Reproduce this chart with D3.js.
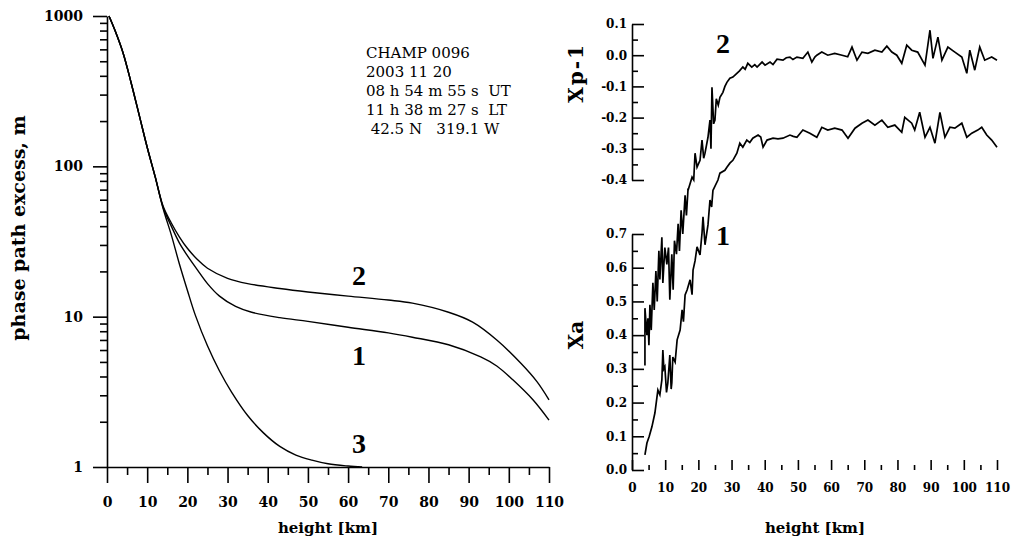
<!DOCTYPE html>
<html>
<head>
<meta charset="utf-8">
<script src="https://cdn.jsdelivr.net/npm/d3@7"></script>
<style>
	body { margin: 0; background: #fff; }
	text { font-family: "DejaVu Serif", serif; fill: #000; }
	.tick line, .domain { stroke: #000; stroke-width: 1.6; }
</style>
</head>
<body>
<div id="canvas"></div>
<script>
// left panel: phase path excess (log) vs height
const curve1H = [0.5, 2, 4, 6, 8, 10, 12, 14, 16, 18, 20, 22.5, 25, 28, 32, 36, 43, 50, 60, 70, 76, 85, 93, 97, 101, 106, 110];
const curve1V = [1000, 800, 568, 360, 220, 134, 85, 53, 40, 31, 25.5, 20.5, 16.6, 13.7, 11.7, 10.7, 9.85, 9.3, 8.5, 7.8, 7.3, 6.5, 5.4, 4.7, 3.8, 2.8, 2.05];
const curve2H = [0.5, 2, 4, 6, 8, 10, 12, 14, 16, 18, 20, 22.5, 25, 30, 35, 43, 50, 60, 70, 76, 85, 91, 97, 103, 107, 110];
const curve2V = [1000, 800, 568, 360, 220, 134, 85, 54, 42, 34, 28.5, 24, 21, 18, 16.6, 15.4, 14.6, 13.7, 12.9, 12.3, 10.7, 9.2, 7.0, 4.9, 3.7, 2.8];
const curve3H = [0.5, 2, 4, 6, 8, 10, 12, 14, 16, 18, 20, 22, 25, 28, 31, 35, 39, 43, 47, 51, 55, 60, 63.5];
const curve3V = [1000, 800, 568, 360, 220, 134, 85, 52, 35, 22.5, 15, 10.2, 6.4, 4.35, 3.15, 2.2, 1.68, 1.37, 1.2, 1.11, 1.05, 1.015, 1.0];

const leftXTicks = d3.range(0, 111, 10);
const leftYTicks = [1, 10, 100, 1000];
const infoLines = ["CHAMP 0096", "2003 11 20", "08 h 54 m 55 s  UT", "11 h 38 m 27 s  LT", " 42.5 N   319.1 W"];

// right panel: Xa (bottom) and Xp-1 (top) vs height, [height, value]
const xa1 = [[3.9,0.045],[4.5,0.08],[5.2,0.10],[6.0,0.128],[6.9,0.169],[7.8,0.237],[8.4,0.223],[9.0,0.267],[9.3,0.356],[9.6,0.30],[9.9,0.306],[10.4,0.23],[10.8,0.258],[11.4,0.341],[11.8,0.24],[12.0,0.258],[12.3,0.335],[13.0,0.32],[13.6,0.386],[14.5,0.415],[15.1,0.475],[15.5,0.44],[16.0,0.519],[16.6,0.534],[17.5,0.564],[18.1,0.52],[18.4,0.593],[19.0,0.62],[19.6,0.662],[20.5,0.638],[21.1,0.703],[21.4,0.751],[22.0,0.668],[22.9,0.727],[23.5,0.801],[24.0,0.78],[24.4,0.83]];
const xa2 = [[3.9,0.31],[3.9,0.48],[4.5,0.40],[4.8,0.45],[5.1,0.37],[5.4,0.49],[5.8,0.415],[6.3,0.555],[6.7,0.475],[7.2,0.59],[7.6,0.50],[8.1,0.65],[8.4,0.565],[9.0,0.69],[9.3,0.555],[9.9,0.66],[10.5,0.61],[11.0,0.66],[11.4,0.505],[12.0,0.64],[12.4,0.535],[12.8,0.68],[13.4,0.64],[13.9,0.73],[14.3,0.65],[14.8,0.77],[15.3,0.70],[16.0,0.815],[16.4,0.755],[16.9,0.835]];
const xp1 = [[24.4,-0.433],[25.9,-0.40],[26.5,-0.378],[28.0,-0.369],[28.6,-0.359],[29.5,-0.346],[30.4,-0.337],[31.6,-0.314],[32.5,-0.282],[33.4,-0.295],[34.6,-0.272],[35.5,-0.28],[36.4,-0.266],[38.0,-0.256],[38.8,-0.262],[39.5,-0.295],[40.7,-0.272],[42.5,-0.266],[44.0,-0.268],[45.5,-0.266],[47.6,-0.256],[48.6,-0.26],[49.7,-0.263],[51.5,-0.24],[53.6,-0.25],[55.7,-0.263],[57.2,-0.231],[59.0,-0.24],[61.1,-0.234],[63.3,-0.24],[65.1,-0.266],[67.2,-0.234],[69.3,-0.218],[71.1,-0.208],[73.2,-0.224],[75.3,-0.208],[77.1,-0.231],[79.2,-0.224],[81.3,-0.247],[82.2,-0.199],[84.3,-0.218],[85.2,-0.24],[86.7,-0.183],[88.3,-0.263],[89.8,-0.231],[91.3,-0.282],[92.8,-0.183],[94.3,-0.263],[95.8,-0.231],[97.3,-0.234],[99.4,-0.218],[100.9,-0.263],[102.4,-0.25],[104.2,-0.24],[105.4,-0.231],[106.9,-0.256],[108.4,-0.272],[110,-0.295]];
const xp2 = [[16.9,-0.433],[18.1,-0.391],[18.6,-0.40],[19.0,-0.314],[19.6,-0.359],[20.5,-0.337],[21.1,-0.272],[21.6,-0.33],[22.0,-0.314],[22.9,-0.263],[23.5,-0.208],[23.8,-0.30],[24.1,-0.103],[24.6,-0.22],[25.0,-0.208],[25.4,-0.14],[26.0,-0.16],[26.5,-0.135],[27.4,-0.119],[28.0,-0.10],[28.6,-0.087],[29.5,-0.074],[30.4,-0.07],[31.6,-0.058],[32.4,-0.05],[33.4,-0.038],[34.1,-0.045],[34.9,-0.026],[36.1,-0.038],[37.0,-0.03],[37.7,-0.038],[39.2,-0.022],[40.1,-0.032],[41.6,-0.022],[42.5,-0.03],[43.7,-0.013],[45.5,-0.016],[46.5,-0.008],[47.6,-0.006],[48.5,-0.014],[49.7,-0.006],[51.5,-0.01],[53.0,0.01],[54.2,-0.022],[55.1,-0.006],[55.7,0.0],[57.2,0.01],[59.0,0.0],[61.1,0.006],[63.3,0.0],[65.0,-0.005],[66.3,0.026],[67.8,-0.016],[69.3,0.01],[71.1,0.006],[73.2,0.016],[75.3,0.01],[76.8,0.029],[78.3,0.01],[79.8,0.0],[81.3,-0.026],[82.8,0.032],[84.3,0.016],[86.1,0.01],[88.3,-0.032],[89.8,0.08],[90.7,-0.01],[92.2,0.058],[93.4,-0.016],[95.2,0.026],[97.3,0.01],[99.4,-0.006],[100.9,-0.058],[101.8,0.016],[103.3,-0.048],[104.8,0.026],[106.3,-0.016],[108.4,-0.006],[110,-0.016]];

const rightXTicks = d3.range(0, 111, 10);
const xpTicks = [-0.4, -0.3, -0.2, -0.1, 0.0, 0.1];
const xaTicks = [0.0, 0.1, 0.2, 0.3, 0.4, 0.5, 0.6, 0.7];

const svg = d3.select("#canvas").append("svg")
	.attr("width", 1015).attr("height", 541)
	.style("background", "#fff");

// ---------- left panel ----------
const x = d3.scaleLinear([0, 110], [107, 549]);
const y = d3.scaleLog([1, 1000], [467, 16]);

const gx = svg.append("g").attr("transform", "translate(0,467)");
gx.call(d3.axisBottom(x).tickValues(leftXTicks).tickSize(16).tickSizeOuter(0).tickPadding(14).tickFormat(d3.format("d")));
svg.append("g").attr("transform", "translate(0,467)")
	.call(d3.axisBottom(x).tickValues(d3.range(5, 110, 10)).tickSize(8).tickFormat(""))
	.select(".domain").remove();

const gy = svg.append("g").attr("transform", "translate(107,0)");
gy.call(d3.axisLeft(y).tickValues(leftYTicks).tickSize(14).tickSizeOuter(0).tickPadding(10).tickFormat(d3.format("d")));
const minorY = [];
leftYTicks.slice(0, 3).forEach(d => { for (let k = 2; k < 10; k++) minorY.push(d * k); });
svg.append("g").attr("transform", "translate(107,0)")
	.call(d3.axisLeft(y).tickValues(minorY).tickSize(7).tickFormat(""))
	.select(".domain").remove();

[gx, gy].forEach(g => g.selectAll("text").style("font-size", "14px").style("font-weight", "bold"));

svg.append("text")
	.attr("transform", "translate(25,228) rotate(-90)")
	.attr("text-anchor", "middle")
	.style("font-size", "19px").style("font-weight", "bold")
	.text("phase path excess, m");
svg.append("text")
	.attr("x", 328).attr("y", 533)
	.attr("text-anchor", "middle")
	.style("font-size", "15px").style("font-weight", "bold")
	.text("height [km]");

const logLine = d3.line().x(d => x(d[0])).y(d => y(d[1])).curve(d3.curveCatmullRom.alpha(0.5));
[[curve1H, curve1V], [curve2H, curve2V], [curve3H, curve3V]].forEach(([hs, vs]) => {
	svg.append("path")
		.datum(hs.map((h, i) => [h, vs[i]]))
		.attr("d", logLine)
		.attr("fill", "none").attr("stroke", "#000").attr("stroke-width", 1.4);
});

const labelFont = '"Liberation Serif", "Times New Roman", serif';
[["2", 285], ["1", 365], ["3", 453]].forEach(([t, yy]) => {
	svg.append("text").attr("x", 359).attr("y", yy).attr("text-anchor", "middle")
		.style("font-family", labelFont).style("font-size", "28px").style("font-weight", "bold")
		.text(t);
});

svg.append("g").selectAll("text").data(infoLines).join("text")
	.attr("x", 366).attr("y", (d, i) => 58 + i * 19)
	.style("font-size", "15px").style("white-space", "pre")
	.text(d => d);

// ---------- right panel ----------
const xr = d3.scaleLinear([0, 110], [632, 997]);
const yTop = d3.scaleLinear([-0.4, 0.1], [180, 24]);
const yBot = d3.scaleLinear([0, 0.7], [470, 234]);
const fmt = v => v.toFixed(1);

const gxr = svg.append("g").attr("transform", "translate(0,470)");
gxr.call(d3.axisBottom(xr).tickValues(rightXTicks).tickSize(-10).tickPadding(13).tickFormat(d3.format("d")));
gxr.select(".domain").remove();
svg.append("g").attr("transform", "translate(0,470)")
	.call(d3.axisBottom(xr).tickValues(d3.range(5, 110, 10)).tickSize(-5).tickFormat(""))
	.select(".domain").remove();

const gTop = svg.append("g").attr("transform", "translate(632,0)");
gTop.call(d3.axisLeft(yTop).tickValues(xpTicks).tickSize(-12).tickSizeOuter(0).tickPadding(5).tickFormat(fmt));
svg.append("g").attr("transform", "translate(632,0)")
	.call(d3.axisLeft(yTop).tickValues([-0.35, -0.25, -0.15, -0.05, 0.05]).tickSize(-6).tickFormat(""))
	.select(".domain").remove();

const gBot = svg.append("g").attr("transform", "translate(632,0)");
gBot.call(d3.axisLeft(yBot).tickValues(xaTicks).tickSize(-12).tickSizeOuter(0).tickPadding(5).tickFormat(fmt));
svg.append("g").attr("transform", "translate(632,0)")
	.call(d3.axisLeft(yBot).tickValues(d3.range(0.05, 0.7, 0.1)).tickSize(-6).tickFormat(""))
	.select(".domain").remove();

[gxr, gTop, gBot].forEach(g => g.selectAll("text").style("font-size", "12px").style("font-weight", "bold"));

svg.append("text")
	.attr("transform", "translate(583,73) rotate(-90)")
	.attr("text-anchor", "middle")
	.style("font-size", "20px").style("font-weight", "bold").style("letter-spacing", "2px")
	.text("Xp-1");
svg.append("text")
	.attr("transform", "translate(583,335) rotate(-90)")
	.attr("text-anchor", "middle")
	.style("font-size", "20px").style("font-weight", "bold")
	.text("Xa");
svg.append("text")
	.attr("x", 815).attr("y", 533)
	.attr("text-anchor", "middle")
	.style("font-size", "15px").style("font-weight", "bold")
	.text("height [km]");

const topLine = d3.line().x(d => xr(d[0])).y(d => yTop(d[1]));
const botLine = d3.line().x(d => xr(d[0])).y(d => yBot(d[1]));
[[xa1, botLine], [xa2, botLine], [xp1, topLine], [xp2, topLine]].forEach(([data, gen]) => {
	svg.append("path").datum(data).attr("d", gen)
		.attr("fill", "none").attr("stroke", "#000").attr("stroke-width", 1.7);
});

[["2", 53], ["1", 245]].forEach(([t, yy]) => {
	svg.append("text").attr("x", 723).attr("y", yy).attr("text-anchor", "middle")
		.style("font-family", labelFont).style("font-size", "28px").style("font-weight", "bold")
		.text(t);
});
</script>
</body>
</html>
